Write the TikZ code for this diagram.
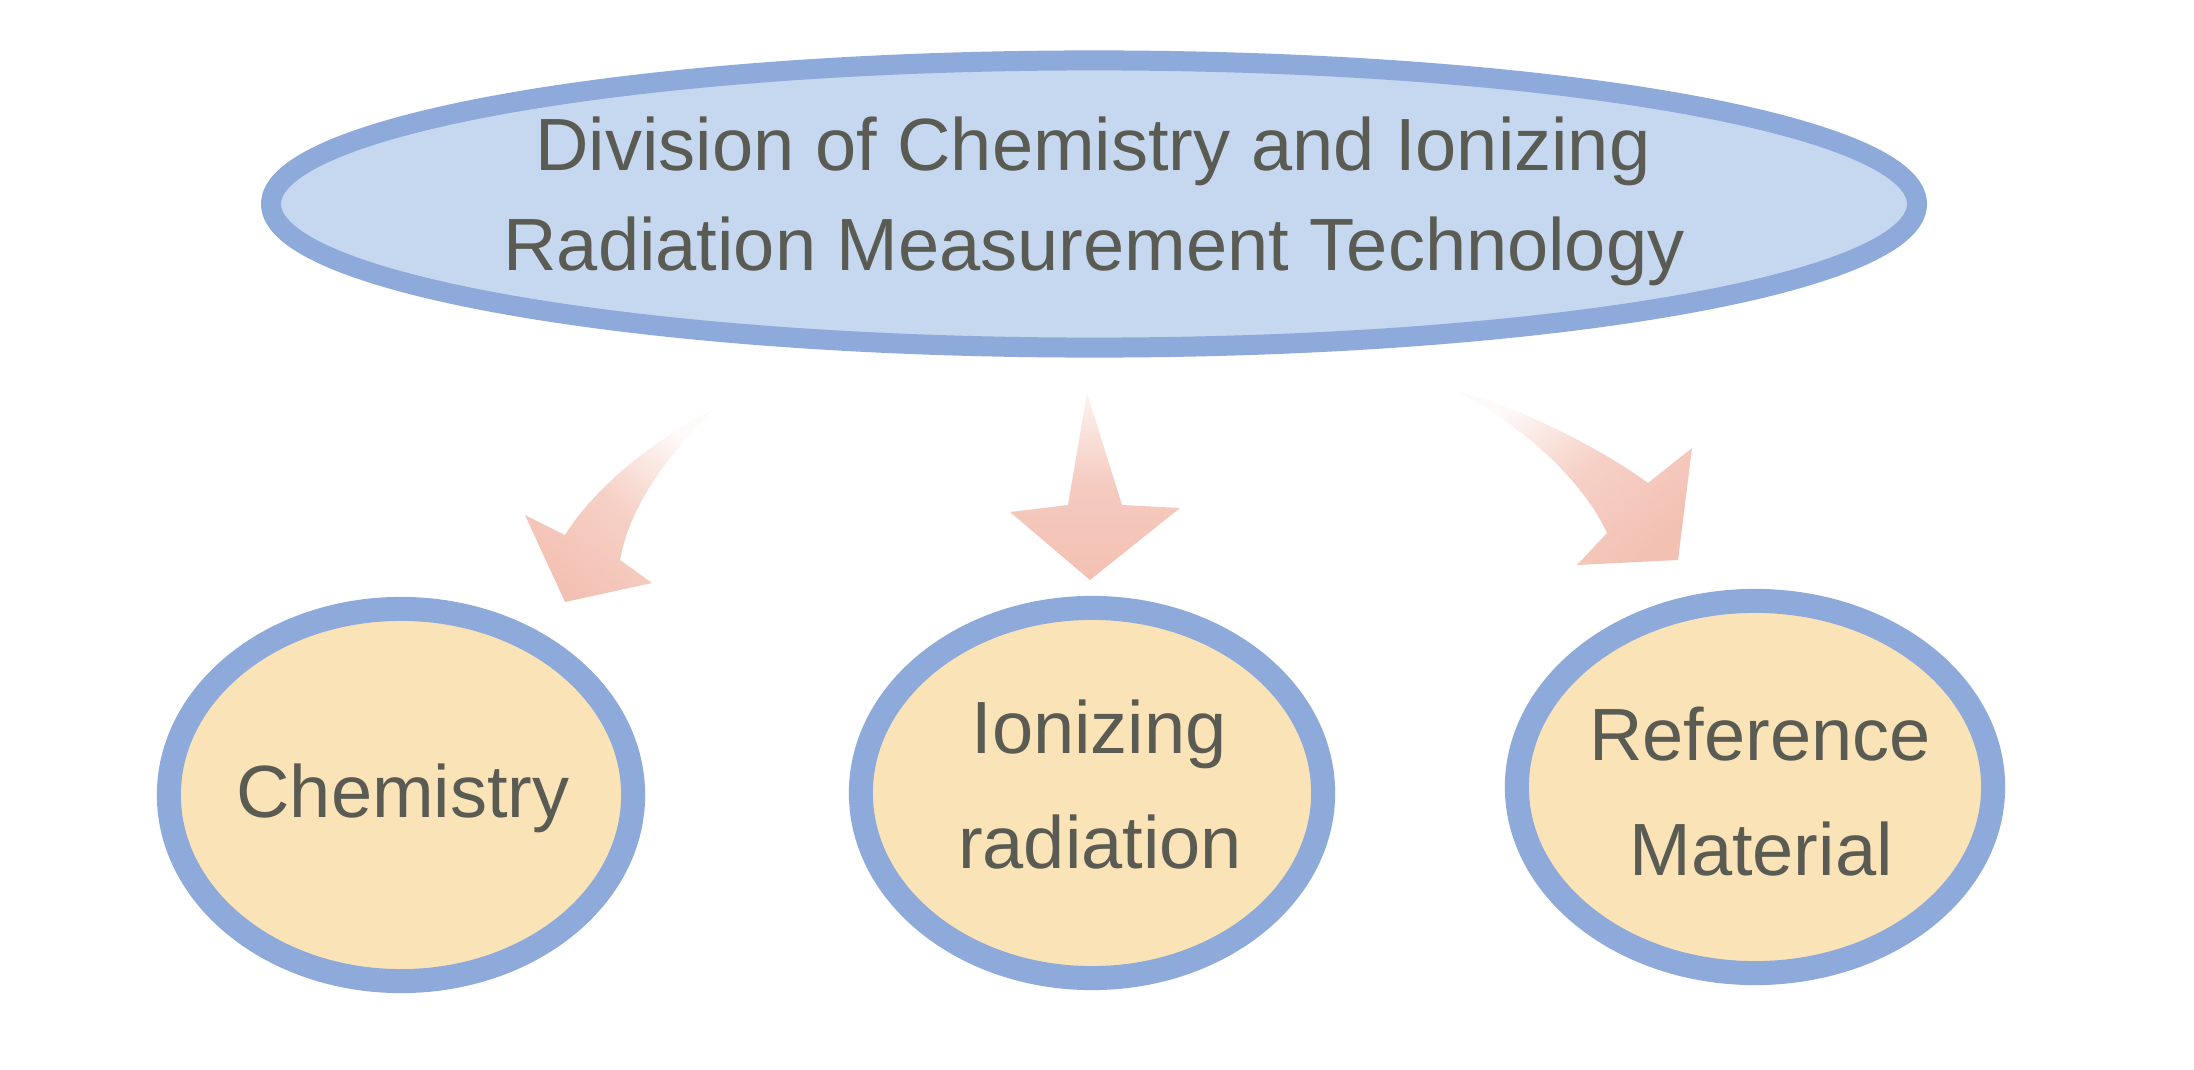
\documentclass[tikz,border=0pt]{standalone}
\usepackage{fontspec}
\setmainfont{Liberation Sans}
\usetikzlibrary{shapes.geometric}
\definecolor{topfill}{HTML}{C6D7F0}
\definecolor{ringblue}{HTML}{8EAADB}
\definecolor{subfill}{HTML}{FBE3B8}
\definecolor{txtc}{HTML}{5A5B52}
\definecolor{arrowc}{HTML}{F3C1B3}
\begin{document}
\begin{tikzpicture}[x=0.01cm,y=-0.01cm,
  topell/.style={ellipse, draw=ringblue, fill=topfill, line width=0.2cm, minimum width=16.45cm, minimum height=2.87cm, inner sep=0pt},
  subell/.style={ellipse, draw=ringblue, fill=subfill, line width=0.24cm, inner sep=0pt},
  lbl/.style={anchor=base, text=txtc, font=\fontsize{21.05pt}{25pt}\selectfont, inner sep=0pt}]
\useasboundingbox (0,0) rectangle (2194,1070);
\fill[white] (0,0) rectangle (2194,1070);

% top ellipse
\node[topell] (top) at (1094,204) {};
\node[lbl] (topA) at (1093,170) {Division of Chemistry and Ionizing};
\node[lbl] (topB) at (1094,270) {Radiation Measurement Technology};

% sub ellipses
\node[subell, minimum width=4.64cm, minimum height=3.72cm] (chem) at (401,795) {};
\node[lbl] (chemA) at (403,817) {Chemistry};

\node[subell, minimum width=4.62cm, minimum height=3.70cm] (ion) at (1092,793) {};
\node[lbl] (ionA) at (1099,753) {Ionizing};
\node[lbl] (ionB) at (1100,868) {radiation};

\node[subell, minimum width=4.76cm, minimum height=3.72cm] (refm) at (1755,787) {};
\node[lbl] (refA) at (1760,760) {Reference};
\node[lbl] (refB) at (1761,875) {Material};

% block arrows
\shade[top color=arrowc!8, bottom color=arrowc, middle color=arrowc!75, shading angle=-40]
  (712,410) .. controls (680,445) and (632,495) .. (620,560) -- (652,583) -- (565,602)
  -- (525,515) -- (565,535) .. controls (590,495) and (640,448) .. (712,410) -- cycle;

\shade[top color=arrowc!20, bottom color=arrowc, middle color=arrowc!85]
  (1087,393) -- (1122,505) -- (1180,508) -- (1090,580) -- (1010,512) -- (1068,505) -- cycle;

\shade[top color=arrowc!8, bottom color=arrowc, middle color=arrowc!75, shading angle=40]
  (1458,392) .. controls (1530,410) and (1610,455) .. (1648,483) -- (1692,448) -- (1678,560)
  -- (1577,565) -- (1607,533) .. controls (1585,485) and (1530,430) .. (1458,392) -- cycle;
\end{tikzpicture}
\end{document}
